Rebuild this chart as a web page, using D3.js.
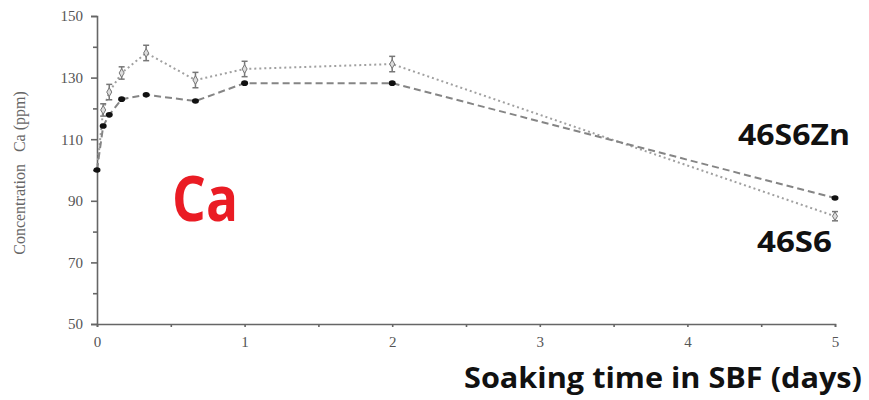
<!DOCTYPE html>
<html>
<head>
<meta charset="utf-8">
<script src="https://cdn.jsdelivr.net/npm/d3@7"></script>
<style>
  body { margin: 0; background: #fff; }
  svg { display: block; }
</style>
</head>
<body>
<svg id="chart"></svg>
<script>
// Data (time in days, Ca in ppm)
const days = [0, 0.042, 0.083, 0.167, 0.333, 0.667, 1, 2, 5];
const ca46S6Zn = [100, 114.3, 117.9, 123, 124.4, 122.4, 128.2, 128.2, 90.9];
const ca46S6 = [100, 119.5, 125.3, 131.5, 138, 129.2, 132.8, 134.4, 85];
const err46S6 = [0, 2, 2.5, 2, 2.5, 2.5, 2.5, 2.5, 1.5];
const yTicks = [50, 70, 90, 110, 130, 150];
const yMinor = [60, 80, 100, 120, 140];
const xTicks = [0, 1, 2, 3, 4, 5];
const xMinor = [0.5, 1.5, 2.5, 3.5, 4.5];

const width = 869, height = 400;
const margin = {top: 16, right: 34, bottom: 76, left: 97};

const svg = d3.select("#chart")
    .attr("width", width)
    .attr("height", height);

const x = d3.scaleLinear()
    .domain([0, 5])
    .range([margin.left, width - margin.right]);

const y = d3.scaleLinear()
    .domain([50, 150])
    .range([height - margin.bottom, margin.top]);

const axisColor = "#666";
const serif = "'Liberation Serif', 'DejaVu Serif', serif";
const sans = "'Open Sans', 'Noto Sans', sans-serif";

// Axes
svg.append("g")
    .attr("transform", `translate(${x(0)},0)`)
    .call(d3.axisLeft(y).tickValues(yTicks).tickSize(6).tickPadding(8));

svg.append("g")
    .attr("transform", `translate(${x(0)},0)`)
    .call(d3.axisLeft(y).tickValues(yMinor).tickSize(4).tickFormat(""))
    .select(".domain").remove();

svg.append("g")
    .attr("transform", `translate(0,${y(50)})`)
    .call(d3.axisBottom(x).tickValues(xTicks).tickSize(3).tickPadding(9)
        .tickFormat(d3.format("d")));

svg.append("g")
    .attr("transform", `translate(0,${y(50)})`)
    .call(d3.axisBottom(x).tickValues(xMinor).tickSize(3).tickFormat(""))
    .select(".domain").remove();

svg.selectAll(".domain, .tick line")
    .attr("stroke", axisColor)
    .attr("stroke-width", 1.6);

svg.selectAll(".tick text")
    .attr("fill", "#555")
    .style("font-family", serif)
    .style("font-size", "15px");

// Lines
const line = vals => d3.line()
    .x((d, i) => x(days[i]))
    .y(d => y(d))(vals);

svg.append("path")
    .attr("d", line(ca46S6))
    .attr("fill", "none")
    .attr("stroke", "#a0a0a0")
    .attr("stroke-width", 2)
    .attr("stroke-dasharray", "2,3");

svg.append("path")
    .attr("d", line(ca46S6Zn))
    .attr("fill", "none")
    .attr("stroke", "#858585")
    .attr("stroke-width", 2)
    .attr("stroke-dasharray", "7,4");

// 46S6 error bars and markers
const eb = svg.append("g").attr("stroke", "#777").attr("stroke-width", 1.5);
ca46S6.forEach((v, i) => {
    if (!err46S6[i]) return;
    const cx = x(days[i]);
    eb.append("line").attr("x1", cx).attr("x2", cx)
        .attr("y1", y(v - err46S6[i])).attr("y2", y(v + err46S6[i]));
    eb.append("line").attr("x1", cx - 3).attr("x2", cx + 3)
        .attr("y1", y(v - err46S6[i])).attr("y2", y(v - err46S6[i]));
    eb.append("line").attr("x1", cx - 3).attr("x2", cx + 3)
        .attr("y1", y(v + err46S6[i])).attr("y2", y(v + err46S6[i]));
});

svg.selectAll(".m46S6")
    .data(ca46S6.slice(1))
    .join("path")
    .attr("class", "m46S6")
    .attr("transform", (d, i) => `translate(${x(days[i + 1])},${y(d)})`)
    .attr("d", d3.symbol(d3.symbolDiamond, 22))
    .attr("fill", "#ddd")
    .attr("stroke", "#777")
    .attr("stroke-width", 1);

// 46S6Zn markers
svg.selectAll(".mZn")
    .data(ca46S6Zn)
    .join("ellipse")
    .attr("class", "mZn")
    .attr("cx", (d, i) => x(days[i]))
    .attr("cy", d => y(d))
    .attr("rx", 3.5)
    .attr("ry", 2.8)
    .attr("fill", "#111");

// Y axis title
svg.append("text")
    .attr("transform", `translate(25,${y(100) + 3}) rotate(-90)`)
    .attr("text-anchor", "middle")
    .attr("fill", "#666")
    .style("font-family", serif)
    .style("font-size", "16px")
    .attr("xml:space", "preserve")
    .text("Concentration   Ca (ppm)");

// Annotations
svg.append("text")
    .attr("x", 172)
    .attr("y", 221)
    .attr("fill", "#ea1c24")
    .style("font-family", sans)
    .style("font-weight", "bold")
    .style("font-size", "62px")
    .attr("textLength", 66)
    .attr("lengthAdjust", "spacingAndGlyphs")
    .text("Ca");

svg.append("text")
    .attr("x", 738)
    .attr("y", 145)
    .attr("fill", "#111")
    .style("font-family", sans)
    .style("font-weight", "bold")
    .style("font-size", "29px")
    .attr("textLength", 112)
    .attr("lengthAdjust", "spacingAndGlyphs")
    .text("46S6Zn");

svg.append("text")
    .attr("x", 757)
    .attr("y", 252)
    .attr("fill", "#111")
    .style("font-family", sans)
    .style("font-weight", "bold")
    .style("font-size", "28px")
    .attr("textLength", 75)
    .attr("lengthAdjust", "spacingAndGlyphs")
    .text("46S6");

svg.append("text")
    .attr("x", 464)
    .attr("y", 388)
    .attr("fill", "#111")
    .style("font-family", sans)
    .style("font-weight", "bold")
    .style("font-size", "28px")
    .attr("textLength", 398)
    .attr("lengthAdjust", "spacingAndGlyphs")
    .text("Soaking time in SBF (days)");
</script>
</body>
</html>
